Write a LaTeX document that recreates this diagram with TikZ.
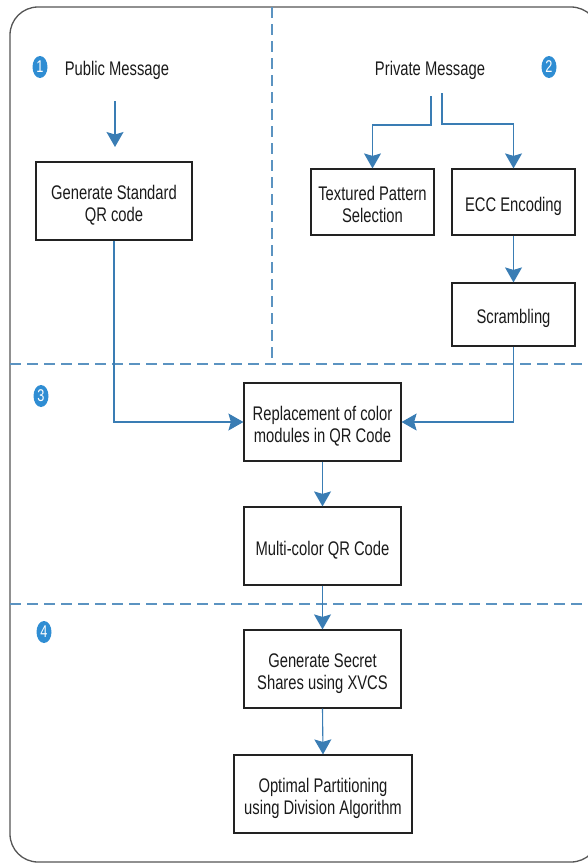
\documentclass[tikz,border=0pt]{standalone}
\usepackage{fontspec}
\setmainfont{Liberation Sans}[FakeStretch=0.75]
\usetikzlibrary{arrows.meta,shapes.geometric}
\definecolor{lineblue}{HTML}{3A7DB4}
\definecolor{dashblue}{HTML}{5B93C1}
\definecolor{badgeblue}{HTML}{2F8DD3}
\definecolor{boxline}{HTML}{222222}
\definecolor{txt}{HTML}{1A1A1A}
\definecolor{frame}{HTML}{555555}
\newcommand\mytop{\rule{0pt}{23pt}}
\newcommand\mybot{\rule[-5pt]{0pt}{0pt}}
\begin{document}
\begin{tikzpicture}[x=1pt,y=-1pt,
  box/.style={draw=boxline,line width=1.2pt,align=center,text=txt,
    font=\fontsize{19.7}{22}\selectfont,inner sep=0pt},
  lbl/.style={text=txt,font=\fontsize{19.7}{22}\selectfont,inner sep=0pt},
  arr/.style={draw=lineblue,line width=1.1pt,-{Stealth[length=15pt,width=17pt,inset=2.5pt]}},
  sep/.style={draw=dashblue,line width=1.1pt,dash pattern=on 11pt off 6pt},
  badge/.style={ellipse,fill=badgeblue,text=white,minimum width=15pt,minimum height=22pt,
    inner sep=0pt,font=\fontsize{17}{17}\selectfont}]
\useasboundingbox (0,0) rectangle (588,863);
\clip (0,0) rectangle (588,863);
% outer frame
\draw[frame,line width=1.3pt,rounded corners=28pt] (10,7) rectangle (599,862);
% separators
\draw[sep] (272,7) -- (272,364);
\draw[sep] (10,364) -- (590,364);
\draw[sep] (10,604) -- (590,604);
% badges
\node[badge] (b1) at (40,67) {1};
\node[badge] (b2) at (549,67) {2};
\node[badge] (b3) at (41,396) {3};
\node[badge] (b4) at (44,632) {4};
% labels
\node[lbl] (pub) at (117,70) {Public Message};
\node[lbl] (priv) at (430,70) {Private Message};
% boxes
\node[box,minimum width=156pt,minimum height=78pt] (gen) at (114,201) {\mytop Generate Standard\\QR code\mybot};
\node[box,minimum width=123pt,minimum height=66pt] (tex) at (372.5,202) {\mytop Textured Pattern\\Selection\mybot};
\node[box,minimum width=123pt,minimum height=66pt] (ecc) at (513.5,202) {\mytop ECC Encoding\mybot};
\node[box,minimum width=123pt,minimum height=63pt] (scr) at (513.5,314.5) {\mytop Scrambling\mybot};
\node[box,minimum width=157pt,minimum height=78pt] (rep) at (322.5,422) {\mytop Replacement of color\\modules in QR Code\mybot};
\node[box,minimum width=157pt,minimum height=78pt] (mul) at (322.5,546) {\mytop Multi-color QR Code\mybot};
\node[box,minimum width=157pt,minimum height=78pt] (sec) at (322.5,669) {\mytop Generate Secret\\Shares using XVCS\mybot};
\node[box,minimum width=178pt,minimum height=78pt] (opt) at (323,794) {\mytop Optimal Partitioning\\using Division Algorithm\mybot};
% free ends
\coordinate (p1) at (115,101);
\coordinate (p2) at (115,147);
\coordinate (a1) at (431,96);
\coordinate (a2) at (442,93);
% connectors
\draw[arr] (p1) -- (p2);
\draw[arr] (a1) -- (431,125) -| (tex.north);
\draw[arr] (a2) -- (442,124) -| (ecc.north);
\draw[arr] (ecc.south) -- (scr.north);
\draw[arr] (gen.south) |- (rep.west);
\draw[arr] (scr.south) |- (rep.east);
\draw[arr] (rep.south) -- (mul.north);
\draw[arr] (mul.south) -- (sec.north);
\draw[arr] (sec.south) -- (opt.north);
\end{tikzpicture}
\end{document}
